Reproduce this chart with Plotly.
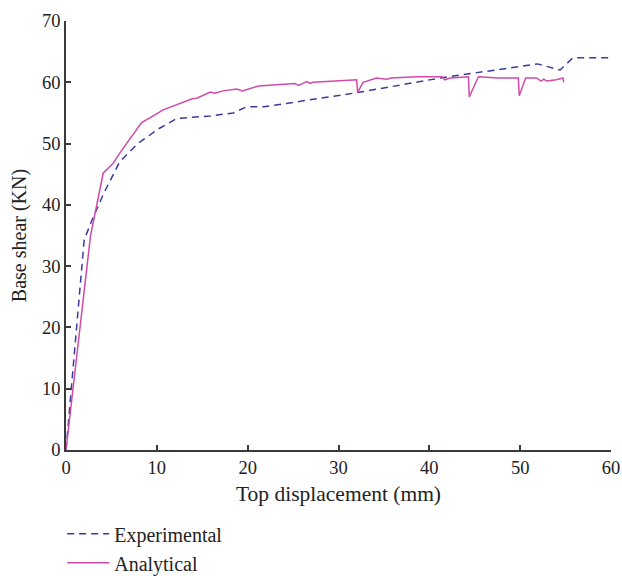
import plotly.graph_objects as go

# Pushover curves: base shear vs top displacement
exp_disp = [0, 2.0, 3.0, 4.2, 5.9, 7.9, 10.3, 12.2, 15.9, 18.4, 19.9, 21.8, 32.0, 41.2, 51.9, 54.4, 55.8, 60.0]
exp_shear = [0, 34.3, 38.0, 42.0, 47.0, 50.0, 52.5, 54.1, 54.5, 55.0, 56.0, 56.0, 58.3, 60.7, 63.0, 62.0, 64.0, 64.0]

ana_disp = [0, 1.5, 2.7, 4.1, 5.2, 5.9, 8.3, 10.7, 13.9, 14.4, 15.9, 16.4, 17.3, 18.8, 19.4, 21.2,
            25.2, 25.6, 26.5, 26.9, 27.2, 32.0, 32.1, 32.7, 34.2, 35.3, 35.8, 38.6, 41.4, 41.7, 42.3,
            44.3, 44.4, 45.4, 47.6, 49.8, 49.9, 50.6, 51.8, 52.3, 52.6, 52.9, 54.0, 54.7, 54.8]
ana_shear = [0, 19.6, 35.0, 45.2, 46.8, 48.4, 53.4, 55.5, 57.3, 57.4, 58.4, 58.2, 58.6, 58.9, 58.6, 59.4,
             59.8, 59.5, 60.1, 59.8, 60.0, 60.4, 58.3, 60.0, 60.7, 60.5, 60.7, 60.9, 60.9, 60.4, 60.7,
             60.9, 57.6, 60.9, 60.7, 60.7, 57.8, 60.7, 60.7, 60.2, 60.5, 60.2, 60.4, 60.7, 60.0]

x_ticks = [0, 10, 20, 30, 40, 50, 60]
y_ticks = [0, 10, 20, 30, 40, 50, 60, 70]

font_family = "Liberation Serif, Times New Roman, serif"
axis_color = "#3a3a3a"

fig = go.Figure()
fig.add_trace(go.Scatter(
    x=exp_disp, y=exp_shear, mode="lines", name="Experimental",
    line=dict(color="#3b3b9e", width=1.5, dash="7px,5px"),
))
fig.add_trace(go.Scatter(
    x=ana_disp, y=ana_shear, mode="lines", name="Analytical",
    line=dict(color="#d04aa8", width=1.5),
))

fig.update_layout(
    width=622, height=576,
    margin=dict(l=66, r=11, t=21, b=126, autoexpand=False),
    paper_bgcolor="white", plot_bgcolor="white",
    font=dict(family=font_family, size=18, color="#222222"),
    showlegend=True,
    legend=dict(
        x=-0.007, y=-0.150, xanchor="left", yanchor="top",
        bgcolor="rgba(0,0,0,0)", font=dict(size=20), tracegroupgap=0,
        itemwidth=42,
    ),
    xaxis=dict(
        range=[0, 60], tickvals=x_ticks, showgrid=False, zeroline=False,
        showline=True, linecolor=axis_color, linewidth=1.5,
        ticks="inside", ticklen=5, tickwidth=1.5, tickcolor=axis_color,
        tickfont=dict(size=18.5),
        title=dict(text="Top displacement (mm)", standoff=9, font=dict(size=21.5)),
    ),
    yaxis=dict(
        range=[0, 70], tickvals=y_ticks, showgrid=False, zeroline=False,
        showline=True, linecolor=axis_color, linewidth=1.5,
        ticks="inside", ticklen=5, tickwidth=1.5, tickcolor=axis_color,
        tickfont=dict(size=18.5),
        title=dict(text="Base shear (KN)", standoff=10, font=dict(size=20)),
    ),
)

fig.write_html("out.html")
